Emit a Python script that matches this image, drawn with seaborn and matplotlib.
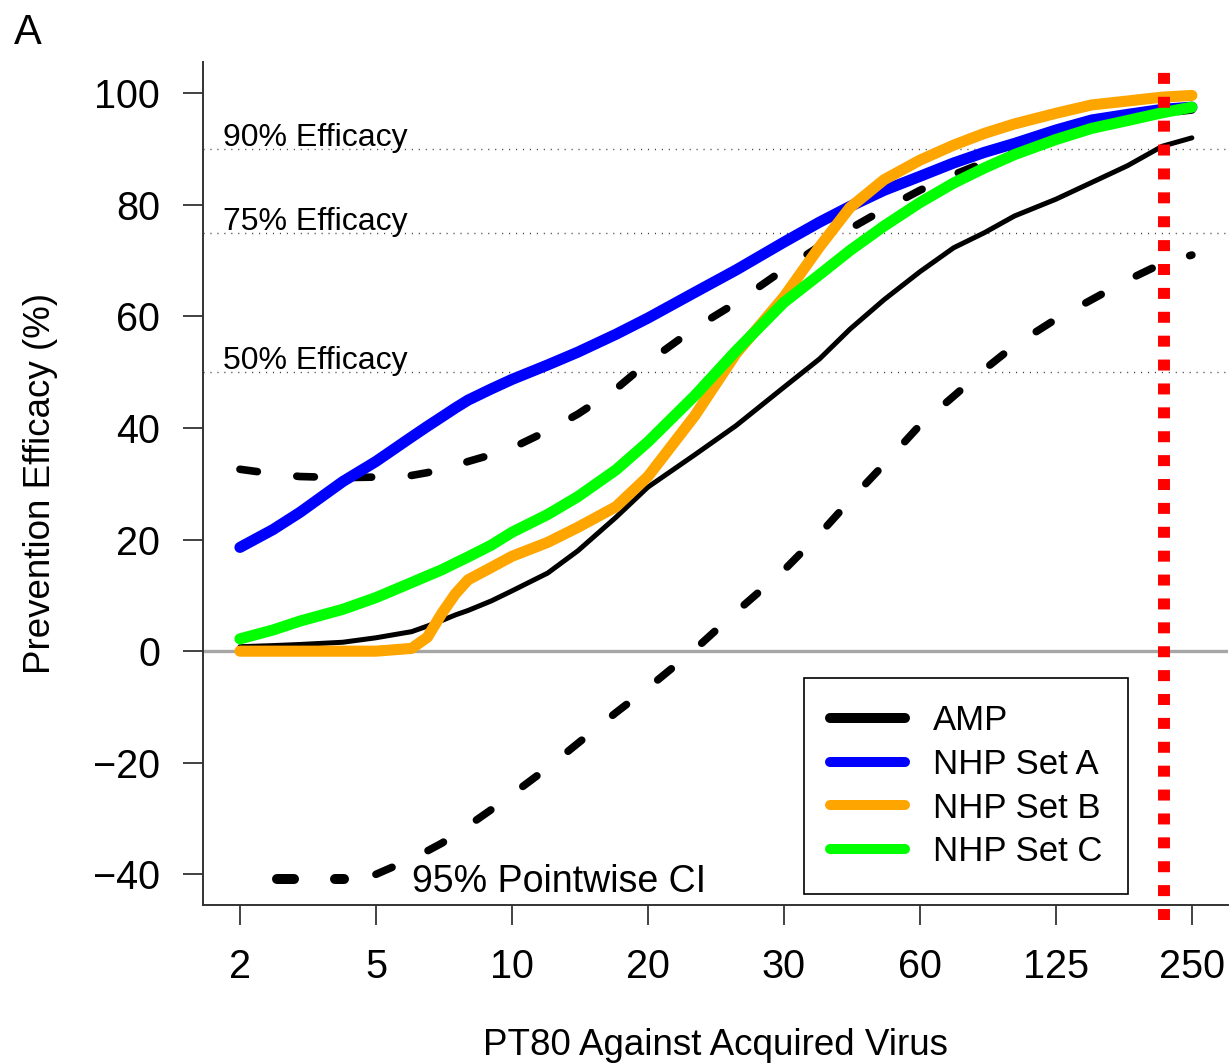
import numpy as np
import matplotlib
matplotlib.use("Agg")
import matplotlib.pyplot as plt
from matplotlib.lines import Line2D
import seaborn as sns

pt80 = [2, 2.5, 3, 4, 5, 6, 6.5, 7, 7.5, 8, 9, 10, 12, 14, 17, 20, 23, 26, 30,
        36, 42, 50, 60, 72, 85, 100, 125, 150, 180, 215, 250]

# prevention efficacy (%) per curve
amp = [0.8, 1.0, 1.2, 1.6, 2.4, 3.5, 4.5, 5.5, 6.5, 7.3, 9.0, 10.8, 14.0, 18.0,
       24.0, 29.4, 35.2, 40.4, 47.3, 52.4, 57.7, 63.0, 68.0, 72.3, 75.0, 78.0,
       81.0, 84.0, 87.0, 90.5, 92.0]
nhp_a = [18.6, 21.8, 24.9, 30.4, 34.0, 38.4, 40.3, 42.0, 43.6, 45.0, 47.0, 48.7,
         51.3, 53.6, 56.8, 59.7, 64.3, 68.3, 73.3, 76.9, 79.7, 82.6, 85.1, 87.5,
         89.4, 91.0, 93.4, 95.2, 96.2, 97.1, 97.5]
nhp_b = [0.0, 0.0, 0.0, 0.0, 0.0, 0.5, 2.5, 6.8, 10.3, 12.8, 15.0, 17.0, 19.5,
         22.2, 25.9, 31.3, 42.2, 53.3, 63.5, 72.5, 79.5, 84.5, 88.0, 90.7, 92.8,
         94.5, 96.4, 97.9, 98.6, 99.3, 99.6]
nhp_c = [2.2, 3.8, 5.4, 7.5, 9.6, 12.3, 13.5, 14.6, 15.8, 16.9, 19.0, 21.3, 24.5,
         27.7, 32.5, 37.5, 45.8, 53.8, 62.5, 67.5, 71.8, 76.2, 80.4, 83.9, 86.6,
         89.0, 91.7, 93.7, 95.1, 96.5, 97.5]
ci_upper = [32.6, 31.8, 31.3, 31.1, 31.2, 31.5, 32.0, 32.6, 33.2, 34.0, 35.2,
            36.4, 39.5, 42.5, 47.0, 51.8, 57.9, 62.4, 68.4, 72.6, 75.7, 79.2,
            82.6, 85.4, 87.6, 89.6, 92.0, 93.9, 95.3, 96.4, 97.0]
ci_lower = [np.nan, np.nan, np.nan, np.nan, -40.0, -37.2, -35.8, -34.4, -32.8,
            -31.3, -28.4, -25.7, -20.9, -16.5, -11.0, -6.6, 0.3, 7.0, 14.5,
            21.0, 27.0, 33.5, 40.5, 45.7, 50.5, 54.8, 59.5, 63.0, 66.5, 69.5,
            71.0]

x_ticks = [2, 5, 10, 20, 30, 60, 125, 250]
y_ticks = [-40, -20, 0, 20, 40, 60, 80, 100]
efficacy_levels = [90, 75, 50]
pt80_cutoff = 217

series_names = ["AMP", "NHP Set A", "NHP Set B", "NHP Set C"]
series_values = [amp, nhp_a, nhp_b, nhp_c]
series_colors = ["black", "#0000ff", "#ffa500", "#00ff00"]
series_widths = [3.6, 8.0, 8.0, 8.0]

sns.set_style("ticks")
plt.rcParams["font.family"] = ["Liberation Sans", "DejaVu Sans"]
plt.rcParams["text.color"] = "black"
plt.rcParams["axes.labelcolor"] = "black"
plt.rcParams["xtick.labelcolor"] = "black"
plt.rcParams["ytick.labelcolor"] = "black"

# the x axis puts the PT80 ticks at equal spacing (log-interpolated between them)
log_ticks = np.log(np.array(x_ticks, dtype=float))
tick_idx = np.arange(len(x_ticks), dtype=float)


def to_axis(x):
    lx = np.log(np.clip(np.asarray(x, dtype=float), 1e-6, None))
    out = np.interp(lx, log_ticks, tick_idx)
    out = np.where(lx < log_ticks[0],
                   (lx - log_ticks[0]) / (log_ticks[1] - log_ticks[0]), out)
    out = np.where(lx > log_ticks[-1],
                   tick_idx[-1] + (lx - log_ticks[-1]) / (log_ticks[-1] - log_ticks[-2]), out)
    return out


def from_axis(p):
    p = np.asarray(p, dtype=float)
    lx = np.interp(p, tick_idx, log_ticks)
    lx = np.where(p < 0, log_ticks[0] + p * (log_ticks[1] - log_ticks[0]), lx)
    lx = np.where(p > tick_idx[-1],
                  log_ticks[-1] + (p - tick_idx[-1]) * (log_ticks[-1] - log_ticks[-2]), lx)
    return np.exp(lx)


fig = plt.figure(figsize=(12.3, 10.63), dpi=100)
ax = fig.add_axes([0.165, 0.1486, 0.8333, 0.7931])
ax.set_xscale("function", functions=(to_axis, from_axis))

# reference lines
ax.axhline(0, color="#a6a6a6", lw=2.4, zorder=1)
for lvl in efficacy_levels:
    ax.axhline(lvl, color="#444444", lw=1.0, linestyle=(0, (0.8, 4.2)), zorder=1)
    ax.annotate(f"{lvl}% Efficacy", xy=(0.0195, lvl),
                xycoords=("axes fraction", "data"), xytext=(0, 2),
                textcoords="offset points", fontsize=23, va="baseline", ha="left")

# confidence band edges
ci_style = dict(color="black", lw=5.5, linestyle=(0, (2.3, 5.2)),
                dash_capstyle="round", dash_joinstyle="round", legend=False,
                estimator=None, sort=False, zorder=2)
sns.lineplot(x=pt80, y=ci_upper, ax=ax, **ci_style)
sns.lineplot(x=pt80, y=ci_lower, ax=ax, **ci_style)

# efficacy curves
for i, (vals, col, w) in enumerate(zip(series_values, series_colors, series_widths)):
    sns.lineplot(x=pt80, y=vals, ax=ax, color=col, lw=w, legend=False,
                 estimator=None, sort=False, solid_capstyle="round",
                 solid_joinstyle="round", zorder=3 + i)

ax.axvline(pt80_cutoff, ymin=-0.018, ymax=0.993, color="#ff0000", lw=8.6,
           linestyle=(0, (0.92, 1.08)), clip_on=False, zorder=8)

ax.set_xlim(from_axis(-0.272), from_axis(7.265))
ax.set_ylim(-45.5, 105.6)
ax.set_xticks(x_ticks)
ax.set_xticklabels([str(t) for t in x_ticks])
ax.set_yticks(y_ticks)
ax.minorticks_off()
ax.tick_params(axis="both", length=14.4, width=1.3, pad=16.5, labelsize=28.5,
               color="#333333")
sns.despine(ax=ax)
for side in ["left", "bottom"]:
    ax.spines[side].set_linewidth(1.4)
    ax.spines[side].set_color("#333333")

ax.set_xlabel("PT80 Against Acquired Virus", fontsize=26.5)
ax.xaxis.set_label_coords(0.5, -0.146)
ax.set_ylabel("Prevention Efficacy (%)", fontsize=26.5)
ax.yaxis.set_label_coords(-0.1415, 0.5)

handles = [Line2D([], [], color=c, lw=7.2, solid_capstyle="round") for c in series_colors]
leg = ax.legend(handles, series_names, loc="upper left", bbox_to_anchor=(0.5863, 0.2693),
                borderaxespad=0, frameon=True, fancybox=False, edgecolor="black",
                framealpha=1, fontsize=25, handlelength=2.15, handletextpad=0.82,
                borderpad=0.75, labelspacing=0.31)
leg.get_frame().set_linewidth(1.2)
leg.set_zorder(10)
ax.add_artist(leg)

ci_handle = Line2D([], [], color="black", lw=7.2, linestyle=(0, (1.7, 4.1)),
                   dash_capstyle="round")
leg2 = ax.legend([ci_handle], ["95% Pointwise CI"], loc="center left",
                 bbox_to_anchor=(0.0722, 0.0273), frameon=False, borderpad=0,
                 borderaxespad=0, fontsize=27, handlelength=1.79, handletextpad=1.81)
leg2.set_zorder(10)

fig.text(0.011, 0.988, "A", fontsize=30, va="top", ha="left")

fig.savefig("out.png", dpi=100)
